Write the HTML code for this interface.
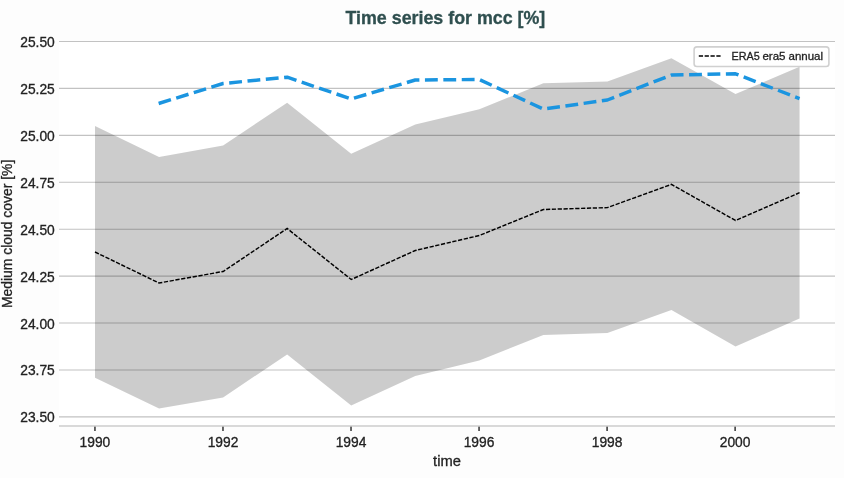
<!DOCTYPE html>
<html><head><meta charset="utf-8"><style>
html,body{margin:0;padding:0;background:#fdfdfd;}
body{width:844px;height:478px;overflow:hidden;}
svg{display:block;will-change:transform;}
text{font-family:"Liberation Sans",sans-serif;fill:#222;stroke:#222;stroke-width:0.3px;}
.t{font-size:13.8px;}
.ax{font-size:14.2px;}
.lg{font-size:11.6px;}
.title{font-size:17.8px;font-weight:bold;fill:#2f4f4f;stroke:#2f4f4f;stroke-width:0.3px;}
</style></head><body>
<svg width="844" height="478" viewBox="0 0 844 478">
<rect x="0" y="0" width="844" height="478" fill="#fdfdfd"/>
<rect x="59" y="41" width="776" height="385" fill="#ffffff"/>
<line x1="59" x2="835" y1="41.50" y2="41.50" stroke="#c2c2c2" stroke-width="1.1"/>
<line x1="59" x2="835" y1="88.42" y2="88.42" stroke="#c2c2c2" stroke-width="1.1"/>
<line x1="59" x2="835" y1="135.34" y2="135.34" stroke="#c2c2c2" stroke-width="1.1"/>
<line x1="59" x2="835" y1="182.26" y2="182.26" stroke="#c2c2c2" stroke-width="1.1"/>
<line x1="59" x2="835" y1="229.18" y2="229.18" stroke="#c2c2c2" stroke-width="1.1"/>
<line x1="59" x2="835" y1="276.10" y2="276.10" stroke="#c2c2c2" stroke-width="1.1"/>
<line x1="59" x2="835" y1="323.02" y2="323.02" stroke="#c2c2c2" stroke-width="1.1"/>
<line x1="59" x2="835" y1="369.94" y2="369.94" stroke="#c2c2c2" stroke-width="1.1"/>
<line x1="59" x2="835" y1="416.86" y2="416.86" stroke="#c2c2c2" stroke-width="1.1"/>
<polygon points="95.00,126.00 159.05,157.00 223.10,145.50 287.15,102.70 351.20,153.70 415.25,124.40 479.30,109.30 543.35,83.30 607.40,81.60 671.45,58.20 735.50,94.00 799.55,66.80 799.55,318.60 735.50,346.40 671.45,310.00 607.40,333.00 543.35,335.00 479.30,360.50 415.25,376.00 351.20,405.40 287.15,354.50 223.10,397.40 159.05,408.50 95.00,377.70" fill="#000" fill-opacity="0.2"/>
<polyline points="95.00,252.00 159.05,283.00 223.10,271.50 287.15,228.50 351.20,279.50 415.25,250.50 479.30,235.50 543.35,209.50 607.40,207.60 671.45,184.40 735.50,220.50 799.55,192.70" fill="none" stroke="#000" stroke-width="1.45" stroke-dasharray="4.25 1.6"/>
<polyline points="158.65,103.50 223.10,83.50 287.15,77.20 351.20,99.00 415.25,80.00 479.30,79.50 543.35,109.10 607.40,100.00 671.45,75.00 735.50,73.80 799.55,98.60" fill="none" stroke="#1b95e0" stroke-width="3.47" stroke-dasharray="12.85 5.55" stroke-linejoin="round"/>
<line x1="94.95" x2="94.95" y1="426" y2="430.9" stroke="#333" stroke-width="1.5"/>
<text x="94.95" y="447.2" text-anchor="middle" class="t">1990</text>
<line x1="222.98" x2="222.98" y1="426" y2="430.9" stroke="#333" stroke-width="1.5"/>
<text x="222.98" y="447.2" text-anchor="middle" class="t">1992</text>
<line x1="351.02" x2="351.02" y1="426" y2="430.9" stroke="#333" stroke-width="1.5"/>
<text x="351.02" y="447.2" text-anchor="middle" class="t">1994</text>
<line x1="479.05" x2="479.05" y1="426" y2="430.9" stroke="#333" stroke-width="1.5"/>
<text x="479.05" y="447.2" text-anchor="middle" class="t">1996</text>
<line x1="607.09" x2="607.09" y1="426" y2="430.9" stroke="#333" stroke-width="1.5"/>
<text x="607.09" y="447.2" text-anchor="middle" class="t">1998</text>
<line x1="735.12" x2="735.12" y1="426" y2="430.9" stroke="#333" stroke-width="1.5"/>
<text x="735.12" y="447.2" text-anchor="middle" class="t">2000</text>
<line x1="59" x2="835" y1="425.95" y2="425.95" stroke="#cccccc" stroke-width="1.5"/>
<text x="54.8" y="47.0" text-anchor="end" class="t">25.50</text>
<text x="54.8" y="93.9" text-anchor="end" class="t">25.25</text>
<text x="54.8" y="140.8" text-anchor="end" class="t">25.00</text>
<text x="54.8" y="187.8" text-anchor="end" class="t">24.75</text>
<text x="54.8" y="234.7" text-anchor="end" class="t">24.50</text>
<text x="54.8" y="281.6" text-anchor="end" class="t">24.25</text>
<text x="54.8" y="328.5" text-anchor="end" class="t">24.00</text>
<text x="54.8" y="375.4" text-anchor="end" class="t">23.75</text>
<text x="54.8" y="422.4" text-anchor="end" class="t">23.50</text>
<text x="447" y="465.5" text-anchor="middle" class="ax" textLength="27.8" lengthAdjust="spacingAndGlyphs">time</text>
<text transform="translate(12,233.9) rotate(-90)" text-anchor="middle" class="ax" textLength="148.4" lengthAdjust="spacingAndGlyphs">Medium cloud cover [%]</text>
<text x="445.4" y="24" text-anchor="middle" class="title" textLength="199.8" lengthAdjust="spacingAndGlyphs">Time series for mcc [%]</text>
<rect x="694.1" y="46.9" width="134.8" height="19.6" rx="2.8" fill="#fff" fill-opacity="0.8" stroke="#d0d0d0" stroke-width="1.6"/>
<line x1="698.8" x2="721" y1="56" y2="56" stroke="#000" stroke-width="1.4" stroke-dasharray="4.25 1.6"/>
<text x="731.5" y="60.1" class="lg" textLength="28.2" lengthAdjust="spacingAndGlyphs">ERA5</text>
<text x="762.4" y="60.1" class="lg" textLength="23.1" lengthAdjust="spacingAndGlyphs">era5</text>
<text x="788.5" y="60.1" class="lg" textLength="34.6" lengthAdjust="spacingAndGlyphs">annual</text>
</svg>
</body></html>
